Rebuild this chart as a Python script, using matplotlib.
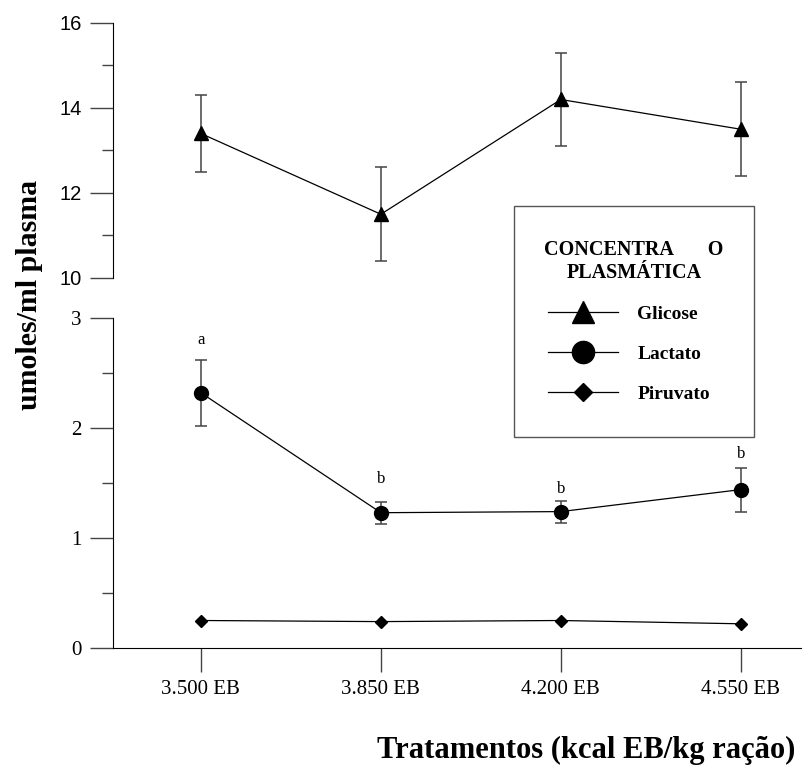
import matplotlib
matplotlib.use("Agg")
import matplotlib.pyplot as plt
from matplotlib.ticker import MultipleLocator

# dados
tratamentos = [3500, 3850, 4200, 4550]
rotulos_x = ["3.500 EB", "3.850 EB", "4.200 EB", "4.550 EB"]

glicose = [13.4, 11.5, 14.2, 13.5]
glicose_err = [0.9, 1.1, 1.1, 1.1]

lactato = [2.32, 1.23, 1.24, 1.44]
lactato_err = [0.30, 0.10, 0.10, 0.20]
lactato_letras = ["a", "b", "b", "b"]

piruvato = [0.25, 0.24, 0.25, 0.22]

SERIF = "Liberation Serif"
SANS = "Liberation Sans"
W, H = 803, 766

fig = plt.figure(figsize=(W / 100, H / 100), dpi=100)

# eixo superior (glicose) e inferior (lactato / piruvato)
ax1 = fig.add_axes([113 / W, 1 - 278 / H, 690 / W, 255 / H])
ax2 = fig.add_axes([113 / W, 1 - 648 / H, 690 / W, 330 / H])

for ax in (ax1, ax2):
    ax.set_xlim(3329, 4671)
    ax.spines["top"].set_visible(False)
    ax.spines["right"].set_visible(False)
    ax.patch.set_alpha(0)
    ax.tick_params(axis="y", which="major", length=16.5, width=1.0, color="#444", pad=6)
    ax.tick_params(axis="y", which="minor", length=8, width=1.0, color="#444")

ax1.spines["bottom"].set_visible(False)
ax1.set_xticks([])
ax1.set_ylim(10, 16)
ax1.yaxis.set_major_locator(MultipleLocator(2))
ax1.yaxis.set_minor_locator(MultipleLocator(1))
for lab in ax1.get_yticklabels():
    lab.set_fontfamily(SANS)
    lab.set_fontsize(14.5)

ax2.set_ylim(0, 3)
ax2.yaxis.set_major_locator(MultipleLocator(1))
ax2.yaxis.set_minor_locator(MultipleLocator(0.5))
ax2.set_xticks(tratamentos)
ax2.set_xticklabels(rotulos_x)
ax2.tick_params(axis="x", length=17, width=1.0, color="#444", pad=6)
for lab in ax2.get_yticklabels() + ax2.get_xticklabels():
    lab.set_fontfamily(SERIF)
    lab.set_fontsize(15)

# glicose
ax1.errorbar(tratamentos, glicose, yerr=glicose_err, fmt="none", ecolor="#444",
             elinewidth=1.1, capsize=4.5, capthick=1.1)
l1, = ax1.plot(tratamentos, glicose, color="black", lw=0.9, marker="^", ms=10)

# lactato
ax2.errorbar(tratamentos, lactato, yerr=lactato_err, fmt="none", ecolor="#444",
             elinewidth=1.1, capsize=4.5, capthick=1.1)
l2, = ax2.plot(tratamentos, lactato, color="black", lw=0.9, marker="o", ms=10)
desloc = [14, 16.5, 8, 9.5]
for x, y, e, t, d in zip(tratamentos, lactato, lactato_err, lactato_letras, desloc):
    ax2.annotate(t, (x, y + e), xytext=(0, d), textcoords="offset points",
                 ha="center", va="center", fontsize=12, family=SERIF)

# piruvato
l3, = ax2.plot(tratamentos, piruvato, color="black", lw=0.9, marker="D", ms=6)

# legenda
leg = fig.legend([l1, l2, l3], ["Glicose", "Lactato", "Piruvato"],
                 loc="upper left", bbox_to_anchor=(514 / W, 1 - 206 / H, 240 / W, 0),
                 mode="expand", borderaxespad=0, fancybox=False, edgecolor="#555",
                 framealpha=1, title="CONCENTRA       O\nPLASMÁTICA",
                 prop={"family": SERIF, "weight": "bold", "size": 14},
                 title_fontproperties={"family": SERIF, "weight": "bold", "size": 14.5},
                 markerscale=1.6, handlelength=3.6, handletextpad=1.0,
                 labelspacing=1.15, borderpad=1.75)
leg.get_frame().set_linewidth(1.0)
leg.get_title().set_multialignment("center")

fig.text(30 / W, 1 - 295 / H, "umoles/ml plasma", rotation=90, ha="center", va="center",
         family=SERIF, weight="bold", fontsize=21.5)
fig.text(586 / W, 1 - 750 / H, "Tratamentos (kcal EB/kg ração)", ha="center", va="center",
         family=SERIF, weight="bold", fontsize=22)

fig.savefig("out.png", dpi=100)
